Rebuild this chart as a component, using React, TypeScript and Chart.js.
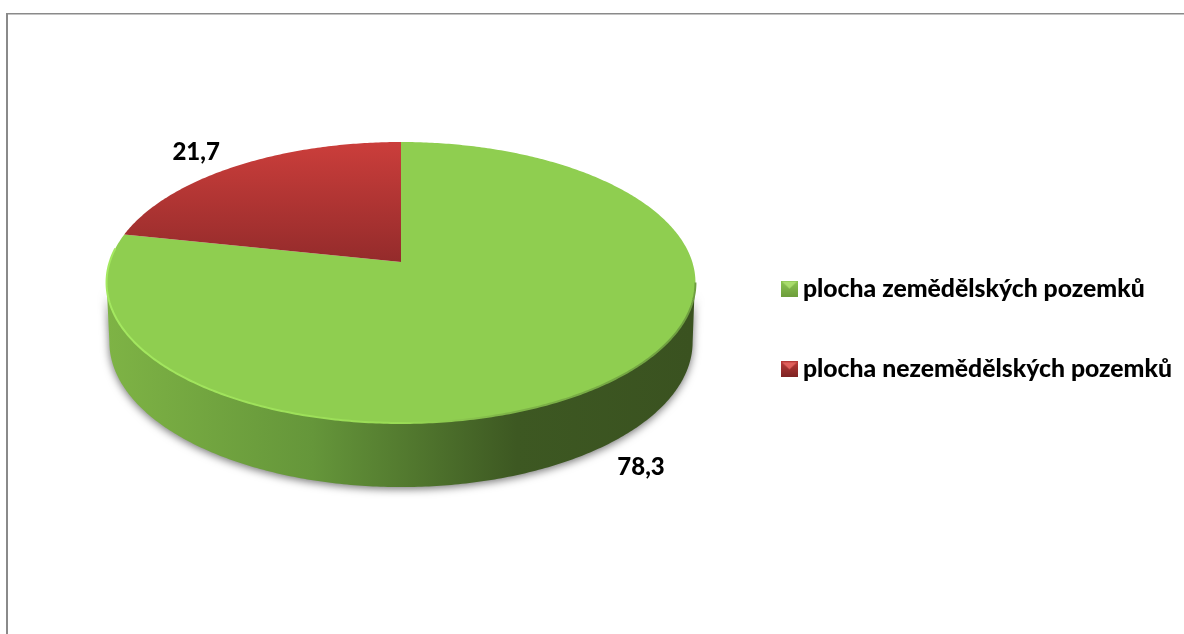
import React, { useEffect, useRef } from "react";
import { Chart, registerables } from "chart.js";

Chart.register(...registerables);

const categories = ["plocha zemědělských pozemků", "plocha nezemědělských pozemků"];
const shares = [78.3, 21.7];
const sliceColors = ["#8FCE50", "#B83A38"];
const labelOffsets = [{ x: 33, y: 85 }, { x: -40, y: -14 }];

// Perspective view of the pie's disc
const view = { cx: 401, cy: 262, rx: 291.3, ry: 137.5, k: 0.1459 };
const base = { cx: 401, cy: 320.8, rx: 288.5, ry: 142, k: 0.1459 };

const project = (p: typeof view, a: number) => {
  const u = Math.cos(a), v = Math.sin(a);
  const w = 1 - p.k * v;
  return { x: p.cx + (p.rx * u) / w, y: p.cy + (p.ry * v) / w };
};

const traceRim = (ctx: CanvasRenderingContext2D, p: typeof view, a0: number, a1: number, move: boolean) => {
  const steps = Math.max(8, Math.ceil(Math.abs(a1 - a0) * 90));
  for (let i = 0; i <= steps; i++) {
    const pt = project(p, a0 + ((a1 - a0) * i) / steps);
    if (i === 0 && move) ctx.moveTo(pt.x, pt.y);
    else ctx.lineTo(pt.x, pt.y);
  }
};

const makeSwatch = (light: string, main: string, dark: string) => {
  const c = document.createElement("canvas");
  c.width = 17;
  c.height = 16;
  const g = c.getContext("2d")!;
  const grad = g.createLinearGradient(0, 0, 0, 16);
  grad.addColorStop(0, main);
  grad.addColorStop(1, dark);
  g.fillStyle = grad;
  g.fillRect(0, 0, 17, 16);
  g.fillStyle = light;
  g.beginPath();
  g.moveTo(1, 1);
  g.lineTo(16, 1);
  g.lineTo(8.5, 8);
  g.closePath();
  g.fill();
  return c;
};

const framePlugin = {
  id: "frame",
  beforeDraw(chart: any) {
    const { ctx } = chart;
    ctx.save();
    ctx.fillStyle = "#ffffff";
    ctx.fillRect(0, 0, chart.width, chart.height);
    ctx.fillStyle = "#8a8a8a";
    ctx.fillRect(6, 13, 1178, 1.5);
    ctx.fillRect(6, 13, 2, 621);
    ctx.restore();
  },
};

const pie3dPlugin = {
  id: "pie3d",
  beforeDatasetDraw(chart: any) {
    const { ctx } = chart;
    const arcs = chart.getDatasetMeta(0).data;
    const edge = Math.asin(view.k);

    ctx.save();
    // side wall
    const wall = ctx.createLinearGradient(108, 0, 692, 0);
    wall.addColorStop(0, "#7EB345");
    wall.addColorStop(0.35, "#65963A");
    wall.addColorStop(0.7, "#3D5822");
    wall.addColorStop(1, "#3A5220");
    ctx.save();
    ctx.shadowColor = "rgba(0,0,0,0.55)";
    ctx.shadowBlur = 8;
    ctx.shadowOffsetY = 2;
    ctx.fillStyle = wall;
    ctx.beginPath();
    traceRim(ctx, view, edge + 0.08, Math.PI - edge, true);
    traceRim(ctx, base, Math.PI - edge, edge, false);
    ctx.closePath();
    ctx.fill();
    ctx.restore();

    // top face
    arcs.forEach((arc: any, i: number) => {
      ctx.beginPath();
      ctx.moveTo(view.cx, view.cy);
      traceRim(ctx, view, arc.startAngle, arc.endAngle, false);
      ctx.closePath();
      if (i === 1) {
        const g = ctx.createLinearGradient(0, 142, 0, 262);
        g.addColorStop(0, "#CB3E3B");
        g.addColorStop(1, "#942B2B");
        ctx.fillStyle = g;
      } else {
        ctx.fillStyle = sliceColors[i];
      }
      ctx.fill();
    });

    // bevel on the front rim
    const rim = ctx.createLinearGradient(106, 0, 695, 0);
    rim.addColorStop(0, "#A4E860");
    rim.addColorStop(0.5, "#9ADC56");
    rim.addColorStop(0.68, "#7FB548");
    rim.addColorStop(1, "#6E9E40");
    ctx.strokeStyle = rim;
    ctx.lineWidth = 2;
    ctx.beginPath();
    traceRim(ctx, view, Math.PI + 0.1, edge, true);
    ctx.stroke();
    ctx.restore();
    return false;
  },
  afterDatasetsDraw(chart: any) {
    const { ctx } = chart;
    const arcs = chart.getDatasetMeta(0).data;
    ctx.save();
    ctx.font = "900 24px Lato";
    ctx.fillStyle = "#000";
    ctx.textAlign = "center";
    ctx.textBaseline = "middle";
    arcs.forEach((arc: any, i: number) => {
      const pt = project(view, (arc.startAngle + arc.endAngle) / 2);
      const text = shares[i].toFixed(1).replace(".", ",");
      ctx.fillText(text, pt.x + labelOffsets[i].x, pt.y + labelOffsets[i].y);
    });
    ctx.restore();
  },
};

export default function App() {
  const ref = useRef<HTMLCanvasElement>(null);
  useEffect(() => {
    const swatches = [
      makeSwatch("#A9DC6C", "#8CC552", "#6E9E3C"),
      makeSwatch("#E0605C", "#B83A38", "#7C2222"),
    ];
    const chart = new Chart(ref.current!, {
      type: "pie",
      data: {
        labels: categories,
        datasets: [{ data: shares, backgroundColor: sliceColors, borderWidth: 0 }],
      },
      options: {
        responsive: false,
        animation: false,
        rotation: 0,
        layout: { padding: { top: 24, right: 2 } },
        plugins: {
          tooltip: { enabled: false },
          legend: {
            position: "right",
            labels: {
              usePointStyle: true,
              pointStyleWidth: 2.2,
              padding: 56,
              color: "#000",
              font: { family: "Lato", size: 24.75, weight: "900" },
              generateLabels: () =>
                categories.map((text, i) => ({
                  text,
                  pointStyle: swatches[i],
                  fontColor: "#000",
                  hidden: false,
                  index: i,
                  lineWidth: 0,
                })),
            },
          },
        },
      },
      plugins: [framePlugin, pie3dPlugin],
    } as any);
    return () => chart.destroy();
  }, []);
  return (
    <div style={{ position: "fixed", left: 0, top: 0, width: 1184, height: 634, overflow: "hidden" }}>
      <canvas ref={ref} width={1184} height={634} style={{ display: "block" }} />
    </div>
  );
}
